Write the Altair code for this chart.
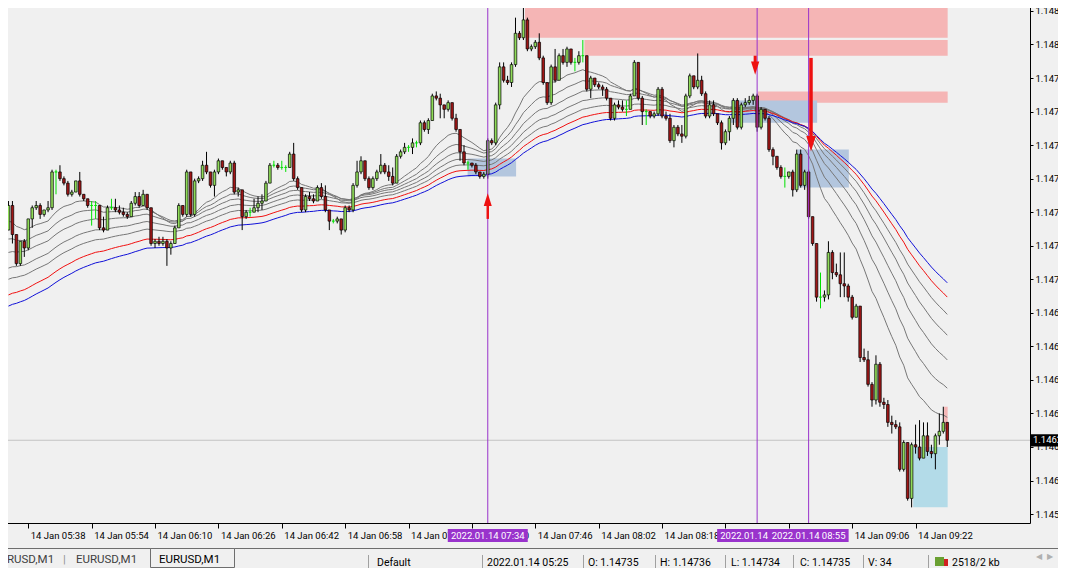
import altair as alt
import pandas as pd

# ---------------- values ----------------
first_minute = 333          # first candle 05:33 (minutes after midnight), one candle per minute
first_open = 1.14722

close = [
    1.14733, 1.14720, 1.14707, 1.14717, 1.14714, 1.14727, 1.14732, 1.14733, 1.14729, 1.14731,
    1.14732, 1.14748, 1.14748, 1.14745, 1.14743, 1.14738, 1.14739, 1.14744, 1.14738, 1.14736,
    1.14733, 1.14733, 1.14733, 1.14723, 1.14722, 1.14732, 1.14732, 1.14731, 1.14730, 1.14729,
    1.14728, 1.14734, 1.14737, 1.14733, 1.14738, 1.14732, 1.14716, 1.14717, 1.14716, 1.14717,
    1.14714, 1.14716, 1.14723, 1.14733, 1.14729, 1.14748, 1.14729, 1.14744, 1.14745, 1.14751,
    1.14748, 1.14742, 1.14748, 1.14753, 1.14750, 1.14748, 1.14752, 1.14739, 1.14740, 1.14728,
    1.14730, 1.14730, 1.14732, 1.14734, 1.14735, 1.14743, 1.14751, 1.14751, 1.14750, 1.14750,
    1.14750, 1.14756, 1.14745, 1.14741, 1.14731, 1.14737, 1.14736, 1.14735, 1.14741, 1.14737,
    1.14731, 1.14726, 1.14726, 1.14727, 1.14722, 1.14732, 1.14731, 1.14742, 1.14748, 1.14753,
    1.14745, 1.14741, 1.14745, 1.14748, 1.14751, 1.14748, 1.14746, 1.14743, 1.14755, 1.14757,
    1.14759, 1.14759, 1.14761, 1.14761, 1.14770, 1.14767, 1.14771, 1.14782, 1.14781, 1.14778,
    1.14776, 1.14779, 1.14772, 1.14767, 1.14757, 1.14752, 1.14752, 1.14751, 1.14748, 1.14746,
    1.14747, 1.14762, 1.14761, 1.14778, 1.14795, 1.14789, 1.14788, 1.14796, 1.14810, 1.14808,
    1.14816, 1.14803, 1.14804, 1.14806, 1.14799, 1.14788, 1.14779, 1.14795, 1.14789, 1.14800,
    1.14797, 1.14803, 1.14797, 1.14797, 1.14800, 1.14800, 1.14785, 1.14790, 1.14787, 1.14786,
    1.14785, 1.14781, 1.14772, 1.14778, 1.14777, 1.14776, 1.14776, 1.14782, 1.14797, 1.14781,
    1.14775, 1.14775, 1.14773, 1.14774, 1.14785, 1.14773, 1.14772, 1.14762, 1.14768, 1.14765,
    1.14764, 1.14782, 1.14791, 1.14786, 1.14789, 1.14783, 1.14773, 1.14778, 1.14774, 1.14770,
    1.14761, 1.14766, 1.14772, 1.14780, 1.14768, 1.14778, 1.14779, 1.14780, 1.14782, 1.14768,
    1.14776, 1.14772, 1.14758, 1.14755, 1.14750, 1.14746, 1.14746, 1.14748, 1.14740, 1.14756,
    1.14742, 1.14748, 1.14728, 1.14716, 1.14692, 1.14692, 1.14693, 1.14712, 1.14703, 1.14702,
    1.14698, 1.14697, 1.14692, 1.14683, 1.14688, 1.14665, 1.14664, 1.14653, 1.14646, 1.14662,
    1.14645, 1.14644, 1.14636, 1.14635, 1.14634, 1.14615, 1.14627, 1.14602, 1.14626, 1.14625,
    1.14620, 1.14630, 1.14623, 1.14622, 1.14630, 1.14632, 1.14636, 1.14628,
]

high = [
    1.14735, 1.14735, 1.14720, 1.14717, 1.14718, 1.14727, 1.14733, 1.14735, 1.14734, 1.14731,
    1.14735, 1.14749, 1.14749, 1.14751, 1.14746, 1.14744, 1.14740, 1.14744, 1.14748, 1.14738,
    1.14736, 1.14735, 1.14735, 1.14733, 1.14728, 1.14733, 1.14736, 1.14736, 1.14733, 1.14732,
    1.14730, 1.14735, 1.14739, 1.14739, 1.14740, 1.14738, 1.14732, 1.14718, 1.14719, 1.14719,
    1.14718, 1.14717, 1.14724, 1.14734, 1.14733, 1.14749, 1.14748, 1.14745, 1.14746, 1.14753,
    1.14757, 1.14746, 1.14749, 1.14754, 1.14753, 1.14750, 1.14753, 1.14753, 1.14741, 1.14740,
    1.14731, 1.14732, 1.14736, 1.14737, 1.14738, 1.14744, 1.14752, 1.14753, 1.14752, 1.14753,
    1.14751, 1.14757, 1.14761, 1.14746, 1.14740, 1.14738, 1.14739, 1.14738, 1.14742, 1.14743,
    1.14742, 1.14731, 1.14727, 1.14728, 1.14725, 1.14733, 1.14733, 1.14743, 1.14753, 1.14755,
    1.14752, 1.14746, 1.14746, 1.14749, 1.14756, 1.14752, 1.14751, 1.14750, 1.14756, 1.14758,
    1.14761, 1.14760, 1.14763, 1.14762, 1.14771, 1.14771, 1.14772, 1.14783, 1.14784, 1.14783,
    1.14778, 1.14780, 1.14779, 1.14774, 1.14766, 1.14760, 1.14753, 1.14752, 1.14752, 1.14748,
    1.14748, 1.14763, 1.14763, 1.14779, 1.14797, 1.14797, 1.14791, 1.14797, 1.14817, 1.14811,
    1.14824, 1.14817, 1.14805, 1.14807, 1.14810, 1.14800, 1.14788, 1.14796, 1.14803, 1.14801,
    1.14803, 1.14804, 1.14803, 1.14799, 1.14802, 1.14807, 1.14800, 1.14791, 1.14790, 1.14788,
    1.14787, 1.14786, 1.14781, 1.14779, 1.14780, 1.14780, 1.14780, 1.14783, 1.14798, 1.14797,
    1.14782, 1.14776, 1.14775, 1.14775, 1.14786, 1.14786, 1.14775, 1.14774, 1.14769, 1.14769,
    1.14769, 1.14783, 1.14792, 1.14791, 1.14801, 1.14791, 1.14784, 1.14780, 1.14780, 1.14774,
    1.14771, 1.14767, 1.14773, 1.14781, 1.14781, 1.14779, 1.14781, 1.14782, 1.14783, 1.14783,
    1.14777, 1.14776, 1.14773, 1.14759, 1.14755, 1.14751, 1.14750, 1.14748, 1.14749, 1.14758,
    1.14758, 1.14749, 1.14749, 1.14727, 1.14716, 1.14703, 1.14695, 1.14717, 1.14713, 1.14707,
    1.14712, 1.14712, 1.14698, 1.14693, 1.14689, 1.14688, 1.14669, 1.14668, 1.14654, 1.14666,
    1.14663, 1.14647, 1.14646, 1.14639, 1.14637, 1.14636, 1.14628, 1.14626, 1.14627, 1.14635,
    1.14637, 1.14636, 1.14636, 1.14626, 1.14631, 1.14640, 1.14643, 1.14636,
]

low = [
    1.14722, 1.14716, 1.14706, 1.14706, 1.14710, 1.14713, 1.14723, 1.14731, 1.14727, 1.14728,
    1.14730, 1.14731, 1.14738, 1.14744, 1.14742, 1.14737, 1.14737, 1.14739, 1.14737, 1.14735,
    1.14732, 1.14724, 1.14727, 1.14722, 1.14721, 1.14722, 1.14731, 1.14730, 1.14729, 1.14728,
    1.14727, 1.14728, 1.14733, 1.14732, 1.14733, 1.14731, 1.14715, 1.14714, 1.14715, 1.14715,
    1.14706, 1.14711, 1.14716, 1.14723, 1.14728, 1.14728, 1.14728, 1.14728, 1.14743, 1.14744,
    1.14747, 1.14741, 1.14737, 1.14747, 1.14749, 1.14746, 1.14747, 1.14738, 1.14737, 1.14722,
    1.14727, 1.14728, 1.14730, 1.14730, 1.14731, 1.14735, 1.14743, 1.14750, 1.14749, 1.14749,
    1.14748, 1.14750, 1.14744, 1.14740, 1.14730, 1.14730, 1.14735, 1.14734, 1.14735, 1.14736,
    1.14730, 1.14722, 1.14725, 1.14725, 1.14720, 1.14721, 1.14730, 1.14730, 1.14741, 1.14747,
    1.14744, 1.14740, 1.14740, 1.14744, 1.14747, 1.14747, 1.14744, 1.14742, 1.14743, 1.14754,
    1.14756, 1.14757, 1.14756, 1.14759, 1.14760, 1.14766, 1.14765, 1.14771, 1.14780, 1.14772,
    1.14772, 1.14775, 1.14771, 1.14766, 1.14753, 1.14751, 1.14749, 1.14750, 1.14747, 1.14745,
    1.14745, 1.14745, 1.14760, 1.14760, 1.14776, 1.14788, 1.14787, 1.14786, 1.14795, 1.14807,
    1.14807, 1.14802, 1.14802, 1.14803, 1.14798, 1.14787, 1.14778, 1.14778, 1.14788, 1.14789,
    1.14796, 1.14795, 1.14796, 1.14793, 1.14796, 1.14797, 1.14784, 1.14781, 1.14786, 1.14785,
    1.14782, 1.14780, 1.14771, 1.14771, 1.14776, 1.14775, 1.14773, 1.14776, 1.14782, 1.14780,
    1.14769, 1.14769, 1.14772, 1.14772, 1.14773, 1.14772, 1.14771, 1.14761, 1.14759, 1.14764,
    1.14761, 1.14763, 1.14781, 1.14785, 1.14785, 1.14782, 1.14772, 1.14772, 1.14773, 1.14769,
    1.14758, 1.14760, 1.14762, 1.14769, 1.14767, 1.14767, 1.14777, 1.14778, 1.14778, 1.14766,
    1.14767, 1.14771, 1.14757, 1.14751, 1.14749, 1.14745, 1.14741, 1.14745, 1.14737, 1.14739,
    1.14741, 1.14740, 1.14727, 1.14715, 1.14690, 1.14687, 1.14690, 1.14691, 1.14700, 1.14701,
    1.14692, 1.14692, 1.14690, 1.14682, 1.14684, 1.14663, 1.14663, 1.14652, 1.14643, 1.14644,
    1.14643, 1.14642, 1.14634, 1.14631, 1.14633, 1.14614, 1.14614, 1.14601, 1.14598, 1.14622,
    1.14619, 1.14620, 1.14621, 1.14620, 1.14615, 1.14626, 1.14631, 1.14625,
]

# moving averages: periods and their values at the first visible candle
ma_names = ["MA 20", "MA 30", "MA 40", "MA 50", "MA 60", "MA 70", "MA 80"]
ma_periods = [20, 30, 40, 50, 60, 70, 80]
ma_first = [1.14726, 1.14718, 1.14712, 1.14705, 1.14700, 1.14693, 1.14688]

# drawn rectangles (minute of day, price)
zone_kind = ["supply", "supply", "supply", "entry", "entry", "entry", "target", "supply"]
zone_start = [463.4, 478.4, 522.15, 448.9, 515.4, 532.15, 561.4, 569.2]
zone_end = [570.1, 570.1, 570.1, 461.15, 537.15, 545.15, 570.1, 570.1]
zone_top = [1.14823, 1.14807, 1.14784, 1.14754, 1.14780, 1.14758, 1.14625, 1.14643]
zone_bottom = [1.14808, 1.14800, 1.14779, 1.14746, 1.14770, 1.14741, 1.14598, 1.14633]

# vertical lines
vline_minute = [454, 522, 535]
vline_text = ["2022.01.14 07:34", "2022.01.14 08:42", "2022.01.14 08:55"]

# arrows: minute, tail price, neck price, centre of head price
arrow_minute = [454, 521.5, 535.6]
arrow_tail = [1.14727, 1.14800, 1.14799]
arrow_neck = [1.14734, 1.14796, 1.14763]
arrow_head = [1.147356, 1.147944, 1.147606]

bid_price = 1.14628
bid_text = "1.14628"

time_ticks = [322, 338, 354, 370, 386, 402, 418, 434, 450, 466, 482, 498, 514, 530, 546, 562]
price_ticks = [1.14595, 1.14610, 1.14625, 1.14640, 1.14655, 1.14670, 1.14685, 1.14700,
               1.14715, 1.14730, 1.14745, 1.14760, 1.14775, 1.14790, 1.14805, 1.14820]

tab_texts = ["EURUSD,M1", "|", "EURUSD,M1", "EURUSD,M1"]
status_texts = ["Default", "2022.01.14 05:25", "O: 1.14735", "H: 1.14736", "L: 1.14734",
                "C: 1.14735", "V: 34", "2518/2 kb"]

# ---------------- styles ----------------
FONT = "Roboto"
BG = "#f0f0f0"
W, H = 1030, 523
RED = "#ee1111"
PURPLE = "#9933cc"
body_fill = {"up": "#8fdc58", "down": "#a01616", "doji": "#00e000"}
body_line = {"up": "#000000", "down": "#000000", "doji": "#00e000"}
zone_fill = {"supply": "#f5b5b5", "entry": "#b3c6de", "target": "#b3dbe8"}
ma_colors = ["#777777"] * 5 + ["#f01010", "#1010d8"]

# ---------------- tables ----------------
n = len(close)
opens = [first_open] + close[:-1]
crow = []
for i in range(n):
    o, c = opens[i], close[i]
    diff = round(c - o, 6)
    d = "up" if diff > 0 else ("down" if diff < 0 else "doji")
    crow.append(dict(t=first_minute + i, o=o, c=c,
                     h=max(high[i], o, c), l=min(low[i], o, c),
                     fill=body_fill[d], line=body_line[d]))
cdf = pd.DataFrame(crow)

mrow = []
for name, p, s, col in zip(ma_names, ma_periods, ma_first, ma_colors):
    a = 2.0 / (p + 1)
    e = s
    for i, c in enumerate(close):
        if i:
            e = e + a * (c - e)
        mrow.append(dict(t=first_minute + i, v=e, s=name, col=col))
mdf = pd.DataFrame(mrow)

zdf = pd.DataFrame(dict(t1=zone_start, t2=zone_end, p1=zone_top, p2=zone_bottom,
                        col=[zone_fill[k] for k in zone_kind]))
adf = pd.DataFrame(dict(t=arrow_minute, tail=arrow_tail, neck=arrow_neck, head=arrow_head))
one = pd.DataFrame({"k": [0]})

xs = alt.Scale(domain=[332.125, 589.625], nice=False, zero=False)
ys = alt.Scale(domain=[1.14591, 1.148249], nice=False, zero=False)

label_expr = ("'14 Jan ' + (floor(datum.value / 60) < 10 ? '0' : '') + floor(datum.value / 60)"
              " + ':' + (datum.value % 60 < 10 ? '0' : '') + (datum.value % 60)")

xaxis = alt.Axis(values=time_ticks, labelExpr=label_expr, orient="bottom", title=None, grid=False,
                 labelAlign="left", labelBaseline="top", labelPadding=2, labelOffset=2,
                 tickSize=5, tickColor="#000000", tickWidth=1, domainColor="#000000", domainWidth=1,
                 labelColor="#000000", labelFont=FONT, labelFontSize=9.5, labelOverlap=False,
                 labelFlush=False, labelBound=False)
yaxis = alt.Axis(values=price_ticks, format=".5f", orient="right", title=None, grid=False,
                 labelAlign="left", labelBaseline="middle", labelPadding=2,
                 tickSize=3, tickColor="#000000", tickWidth=1, domainColor="#000000", domainWidth=1,
                 labelColor="#000000", labelFont=FONT, labelFontSize=9.5, labelOverlap=False,
                 labelFlush=False, labelBound=False)


def X(f):
    return alt.X(f, type="quantitative", scale=xs, axis=xaxis)


def Y(f):
    return alt.Y(f, type="quantitative", scale=ys, axis=yaxis)


layers = []

layers.append(alt.Chart(zdf).mark_rect().encode(
    x=X("t1"), x2="t2", y=Y("p1"), y2="p2", color=alt.Color("col:N", scale=None)))

layers.append(alt.Chart(pd.DataFrame({"p": [bid_price]})).mark_rule(
    color="#c4c4c4", strokeWidth=1).encode(y=Y("p")))

layers.append(alt.Chart(mdf).mark_line(strokeWidth=1).encode(
    x=X("t"), y=Y("v"), color=alt.Color("col:N", scale=None), detail="s:N"))

layers.append(alt.Chart(cdf).mark_rule(strokeWidth=1).encode(
    x=X("t"), y=Y("l"), y2="h", color=alt.Color("line:N", scale=None)))

layers.append(alt.Chart(cdf).mark_bar(size=2.6, strokeWidth=0.7, opacity=1).encode(
    x=X("t"), y=Y("o"), y2="c",
    fill=alt.Fill("fill:N", scale=None), stroke=alt.Stroke("line:N", scale=None)))

layers.append(alt.Chart(pd.DataFrame({"t": vline_minute})).mark_rule(
    color=PURPLE, strokeWidth=1).encode(x=X("t")))

shaft_width = [2.5, 3, 3.5]
head_shape = ["M-0.63,1L0.63,1L0,-1Z", "M-0.62,-1L0.62,-1L0,1Z", "M-0.6,-1L0.6,-1L0,1Z"]
head_size = [161, 177, 246]
for i in range(len(arrow_minute)):
    d = adf.iloc[[i]]
    layers.append(alt.Chart(d).mark_rule(color=RED, strokeWidth=shaft_width[i]).encode(
        x=X("t"), y=Y("tail"), y2="neck"))
    layers.append(alt.Chart(d).mark_point(shape=head_shape[i], size=head_size[i], filled=True,
                                          color=RED, opacity=1, strokeWidth=0).encode(
        x=X("t"), y=Y("head")))

# time labels of the vertical lines
for tm, txt in zip(vline_minute, vline_text):
    d = pd.DataFrame({"t": [tm], "txt": [txt]})
    layers.append(alt.Chart(d).mark_point(
        shape="M-1,-0.1625L1,-0.1625L1,0.1625L-1,0.1625Z", size=6400, filled=True,
        color=PURPLE, opacity=1, strokeWidth=0).encode(x=X("t"), y=alt.value(535.5)))
    layers.append(alt.Chart(d).mark_text(
        color="#ffffff", font=FONT, fontSize=9.5, align="center", baseline="middle").encode(
        x=X("t"), y=alt.value(536), text="txt:N"))

# current price label on the price scale
pdf = pd.DataFrame({"p": [bid_price], "txt": [bid_text]})
layers.append(alt.Chart(pdf).mark_point(
    shape="M-1,-0.34L1,-0.34L1,0.34L-1,0.34Z", size=1296, filled=True,
    color="#000000", opacity=1, strokeWidth=0).encode(x=alt.value(1049), y=Y("p")))
layers.append(alt.Chart(pdf).mark_text(
    color="#ffffff", font=FONT, fontSize=9.5, align="left", baseline="middle").encode(
    x=alt.value(1033), y=Y("p"), text="txt:N"))


# ---------------- terminal chrome below the chart ----------------
def ui_text(s, x, y, color="#000000", size=11.5, font=FONT):
    return alt.Chart(one).mark_text(align="left", baseline="alphabetic", font=font,
                                    fontSize=size, color=color).encode(
        x=alt.value(x), y=alt.value(y), text=alt.value(s))


def ui_rule(x1, x2, y1, y2, color):
    return alt.Chart(one).mark_rule(color=color, strokeWidth=1).encode(
        x=alt.value(x1), x2=alt.value(x2), y=alt.value(y1), y2=alt.value(y2))


layers.append(ui_rule(0, 1066, 548.5, 548.5, "#6e6e6e"))
layers.append(alt.Chart(one).mark_rect(fill=BG, stroke="#6e6e6e", strokeWidth=1).encode(
    x=alt.value(150.5), x2=alt.value(234.5), y=alt.value(548.5), y2=alt.value(567.5)))
tab_x = [-7, 63, 76, 159]
tab_col = ["#404040", "#909090", "#404040", "#000000"]
for s, x, col in zip(tab_texts, tab_x, tab_col):
    layers.append(ui_text(s, x, 563, col))
layers.append(ui_text("\u25c0", 1036, 559, "#b0b0b0", 8, "DejaVu Sans"))
layers.append(ui_text("\u25b6", 1047, 559, "#b0b0b0", 8, "DejaVu Sans"))

# status bar (raised into the free part of the tab row so it stays inside the window)
for x in [368.5, 482.5, 583.5, 655.5, 725.5, 793.5, 863.5, 928.5]:
    layers.append(ui_rule(x, x, 555, 568, "#a0a0a0"))
status_x = [377, 487, 588, 660, 731, 800, 868, 952]
for s, x in zip(status_texts, status_x):
    layers.append(ui_text(s, x, 566, "#000000", 10.5))
layers.append(alt.Chart(one).mark_rect(fill="#6aa032").encode(
    x=alt.value(935), x2=alt.value(944), y=alt.value(557), y2=alt.value(566)))
layers.append(alt.Chart(one).mark_rect(fill="#d02020").encode(
    x=alt.value(944), x2=alt.value(948), y=alt.value(559), y2=alt.value(566)))

chart = alt.layer(*layers).properties(
    width=W, height=H,
    padding={"left": -8, "top": -8, "right": 28, "bottom": 45},
    autosize=alt.AutoSizeParams(type="none"),
).configure(background=BG).configure_view(stroke=None)

chart.save("out.html", embed_options={"renderer": "svg", "actions": False})
